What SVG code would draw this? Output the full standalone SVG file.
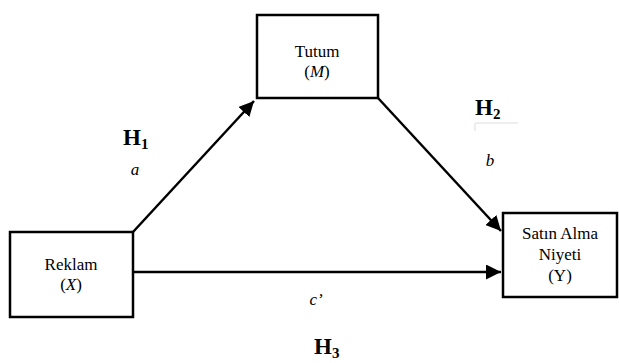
<svg xmlns="http://www.w3.org/2000/svg" width="619" height="363" viewBox="0 0 619 363">
<defs>
<marker id="ah" viewBox="0 0 10 10" refX="10" refY="5" markerWidth="6" markerHeight="6" markerUnits="strokeWidth" orient="auto">
<path d="M0,0 L10,5 L0,10 z" fill="#000"/>
</marker>
<style>
.box{fill:#fff;stroke:#000;stroke-width:2.5}
.t{font-family:'Liberation Serif','Times New Roman',serif;font-size:17px;text-anchor:middle;fill:#000}
.i{font-style:italic}
.h{font-family:'Liberation Serif','Times New Roman',serif;font-size:23px;font-weight:bold;fill:#000}
.s{font-size:15px}
.e{stroke:#000;stroke-width:2.5;fill:none;marker-end:url(#ah)}
</style>
</defs>
<rect width="619" height="363" fill="#fff"/>
<g id="connectors">
<line class="e" x1="133" y1="232" x2="254" y2="101"/>
<line class="e" x1="378" y1="98" x2="501" y2="231"/>
<line class="e" x1="133" y1="272" x2="501" y2="272"/>
</g>
<g id="tutum">
<rect class="box" x="257" y="15" width="121" height="83"/>
<text class="t" x="317" y="57">Tutum</text>
<text class="t" x="317" y="77">(<tspan class="i">M</tspan>)</text>
</g>
<g id="reklam">
<rect class="box" x="10" y="232" width="123" height="85"/>
<text class="t" x="71" y="270">Reklam</text>
<text class="t" x="71" y="290">(<tspan class="i">X</tspan>)</text>
</g>
<g id="satin">
<rect class="box" x="503" y="213" width="114" height="84"/>
<text class="t" x="560" y="239">Satın Alma</text>
<text class="t" x="560" y="260">Niyeti</text>
<text class="t" x="560" y="281">(Y)</text>
</g>
<g id="labels">
<text class="h" x="123" y="145">H<tspan class="s" dy="4">1</tspan></text>
<text class="t i" x="135" y="175">a</text>
<text class="h" x="475" y="115">H<tspan class="s" dy="4">2</tspan></text>
<path d="M475,131 V123 H518" stroke="#ddd" stroke-width="1" fill="none"/>
<text class="t i" x="490" y="166">b</text>
<text class="t i" x="316" y="305">c’</text>
<text class="h" x="314" y="354">H<tspan class="s" dy="4">3</tspan></text>
</g>
</svg>
